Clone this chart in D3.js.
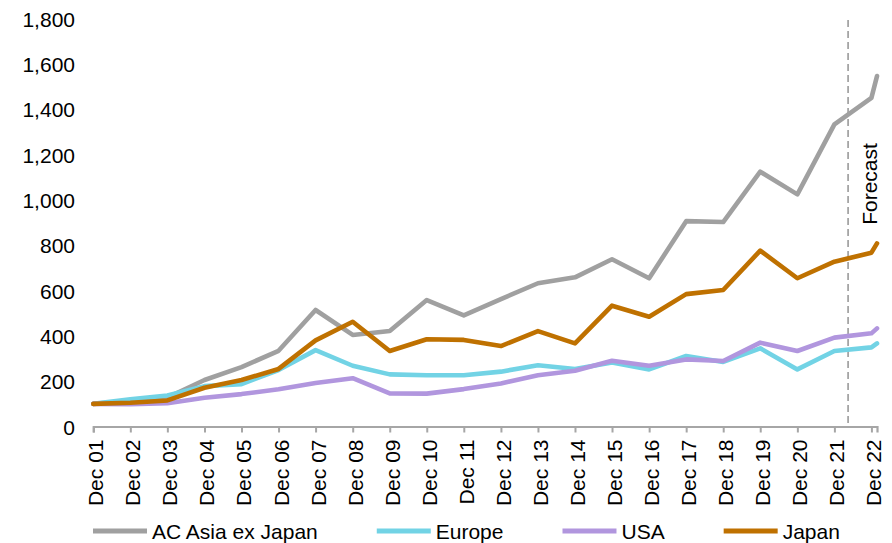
<!DOCTYPE html>
<html>
<head>
<meta charset="utf-8">
<script src="https://cdn.jsdelivr.net/npm/d3@7"></script>
<style>
  html, body { margin: 0; padding: 0; background: #fff; }
  svg { display: block; font-family: "Liberation Sans", Arial, sans-serif; }
</style>
</head>
<body>
<svg id="chart" width="892" height="543"></svg>
<script>
// Observation dates: year-end points plus the latest reading
const dates = ["2001-12-31","2002-12-31","2003-12-31","2004-12-31","2005-12-31","2006-12-31",
  "2007-12-31","2008-12-31","2009-12-31","2010-12-31","2011-12-31","2012-12-31","2013-12-31",
  "2014-12-31","2015-12-31","2016-12-31","2017-12-31","2018-12-31","2019-12-31","2020-12-31",
  "2021-12-31","2022-12-31","2023-02-24"];

// Indexed values (Dec 01 = 100)
const asia   = [100, 112, 128, 205, 262, 334, 514, 404, 421, 558, 490, 562, 632, 658, 738, 654, 906, 902, 1124, 1024, 1333, 1450, 1546];
const europe = [100, 120, 137, 178, 187, 249, 337, 268, 230, 226, 226, 242, 270, 254, 282, 252, 311, 285, 345, 252, 333, 349, 367];
const usa    = [100,  98, 103, 127, 143, 164, 192, 213, 146, 145, 165, 190, 226, 246, 290, 268, 296, 289, 370, 333, 392, 411, 433];
const japan  = [100, 105, 115, 171, 205, 254, 380, 462, 333, 385, 382, 355, 421, 367, 533, 484, 584, 602, 776, 654, 727, 767, 808];

const seriesNames  = ["AC Asia ex Japan", "Europe", "USA", "Japan"];
const seriesColors = ["#a0a0a0", "#72d3e5", "#b196de", "#bf7100"];
const seriesValues = [asia, europe, usa, japan];

const yTicks = [0, 200, 400, 600, 800, 1000, 1200, 1400, 1600, 1800];
const tickYears = d3.range(2001, 2023);
const forecastStart = "2022-05-15";
const forecastLabel = "Forecast";

const parse = d3.timeParse("%Y-%m-%d");
const svg = d3.select("#chart");

const x = d3.scaleTime()
  .domain([parse(dates[0]), parse(dates[dates.length - 1])])
  .range([93.3, 877]);
const y = d3.scaleLinear().domain([0, 1800]).range([426.5, 18.5]);

const fontSize = 21;

// Y axis labels (no axis line)
const yAxis = d3.axisLeft(y).tickValues(yTicks).tickFormat(d3.format(",")).tickSize(0).tickPadding(0);
const gy = svg.append("g").attr("transform", "translate(75,0)").call(yAxis);
gy.select(".domain").remove();
gy.selectAll("text").attr("font-size", fontSize).attr("fill", "#000")
  .attr("font-family", "Liberation Sans, Arial, sans-serif").attr("dy", "0.36em");

// X axis with year-end ticks
const tickDates = tickYears.map(yr => parse(yr + "-12-31"));
const xAxis = d3.axisBottom(x).tickValues(tickDates)
  .tickFormat(d => "Dec " + d3.timeFormat("%y")(d))
  .tickSizeInner(6).tickSizeOuter(6);
const gx = svg.append("g").attr("transform", "translate(0,426.5)").call(xAxis);
gx.select(".domain").attr("stroke", "#a6a6a6").attr("stroke-width", 2.2);
gx.selectAll(".tick line").attr("stroke", "#a6a6a6").attr("stroke-width", 2);
gx.selectAll("text")
  .attr("font-size", fontSize).attr("fill", "#000")
  .attr("font-family", "Liberation Sans, Arial, sans-serif")
  .attr("text-anchor", "end")
  .attr("transform", "rotate(-90)")
  .attr("x", -13).attr("y", 0).attr("dy", "0.45em");

// Forecast divider
const fx = x(parse(forecastStart));
svg.append("line")
  .attr("x1", fx).attr("x2", fx).attr("y1", 20).attr("y2", 426)
  .attr("stroke", "#9a9a9a").attr("stroke-width", 1.6)
  .attr("stroke-dasharray", "7,4");
svg.append("text")
  .attr("transform", `translate(${fx + 29},184) rotate(-90)`)
  .attr("text-anchor", "middle")
  .attr("font-size", fontSize).attr("fill", "#000")
  .text(forecastLabel);

// Series lines
const line = d3.line()
  .x((d, i) => x(parse(dates[i])))
  .y(d => y(d));
seriesValues.forEach((vals, k) => {
  svg.append("path")
    .datum(vals)
    .attr("d", line)
    .attr("fill", "none")
    .attr("stroke", seriesColors[k])
    .attr("stroke-width", 4.6)
    .attr("stroke-linejoin", "round")
    .attr("stroke-linecap", "round");
});

// Legend
const legend = svg.append("g").attr("transform", "translate(93,531)");
let cursor = 0;
seriesNames.forEach((name, k) => {
  const g = legend.append("g").attr("transform", `translate(${cursor},0)`);
  g.append("line").attr("x1", 0).attr("x2", 54).attr("y1", 0).attr("y2", 0)
    .attr("stroke", seriesColors[k]).attr("stroke-width", 5);
  const t = g.append("text").attr("x", 59).attr("y", 0).attr("dy", "0.36em")
    .attr("font-size", fontSize).attr("fill", "#000").text(name);
  cursor += 59 + t.node().getComputedTextLength() + 59;
});
</script>
</body>
</html>
